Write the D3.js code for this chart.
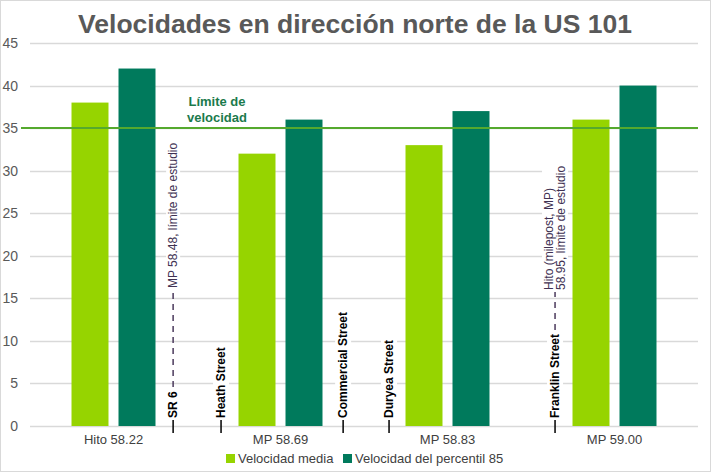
<!doctype html>
<html lang="es">
<head>
  <meta charset="utf-8">
  <script src="https://d3js.org/d3.v7.min.js"></script>
  <style>
    body { margin: 0; background: #fff; }
    text { font-family: "Liberation Sans", Arial, sans-serif; }
  </style>
</head>
<body>
<script>
  // data
  var categories = ["Hito 58.22", "MP 58.69", "MP 58.83", "MP 59.00"];
  var seriesNames = ["Velocidad media", "Velocidad del percentil 85"];
  var velocidadMedia = [38, 32, 33, 36];
  var percentil85 = [42, 36, 37, 40];
  var yTicks = [0, 5, 10, 15, 20, 25, 30, 35, 40, 45];
  var speedLimit = 35;
  // cross streets, position in category units (0 = left edge of the first group)
  var streetNames = ["SR 6", "Heath Street", "Commercial Street", "Duryea Street", "Franklin Street"];
  var streetPos = [0.857, 1.144, 1.875, 2.15, 3.144];
  // study limit notes: which street they sit above, and their lines
  var noteStreet = [0, 4];
  var noteLines = [["MP 58.48, límite de estudio"], ["Hito (milepost, MP)", "58.95, límite de estudio"]];

  var width = 711, height = 472;
  var plotLeft = 30, plotRight = 698, plotTop = 43, plotBottom = 426;
  var colors = ["#96d400", "#007a5c"];

  var svg = d3.select("body").append("svg")
      .attr("width", width)
      .attr("height", height);

  svg.append("rect")
      .attr("x", 0.5).attr("y", 0.5)
      .attr("width", width - 1).attr("height", height - 1)
      .attr("fill", "#fff")
      .attr("stroke", "#d9d9d9");

  var x = d3.scaleBand().domain(categories).range([plotLeft, plotRight]);
  var xPos = d3.scaleLinear().domain([0, categories.length]).range([plotLeft, plotRight]);
  var y = d3.scaleLinear().domain([0, 45]).range([plotBottom, plotTop]);
  var inner = d3.scaleBand().domain(seriesNames).range([0, x.bandwidth()]).paddingInner(0.213).paddingOuter(0.883);

  // title
  svg.append("text")
      .attr("x", 355).attr("y", 33)
      .attr("text-anchor", "middle")
      .style("font-size", "26.5px").style("font-weight", "bold")
      .attr("fill", "#595959")
      .text("Velocidades en dirección norte de la US 101");

  // gridlines
  svg.append("g").selectAll("line")
      .data(yTicks)
    .enter().append("line")
      .attr("x1", plotLeft).attr("x2", plotRight)
      .attr("y1", function(d) { return Math.round(y(d)) + 0.5; })
      .attr("y2", function(d) { return Math.round(y(d)) + 0.5; })
      .attr("stroke", "#d9d9d9")
      .attr("stroke-width", 1.3);

  // y labels
  var yAxis = svg.append("g")
      .attr("transform", "translate(" + (plotLeft - 4) + ",0)")
      .call(d3.axisLeft(y).tickValues(yTicks).tickSize(0).tickPadding(8));
  yAxis.select(".domain").remove();
  yAxis.selectAll("text")
      .style("font-size", "14px")
      .style("font-family", "'Liberation Sans', Arial, sans-serif")
      .attr("fill", "#595959");

  // bars
  var rows = categories.map(function(c, i) { return [velocidadMedia[i], percentil85[i]]; });
  var groups = svg.append("g").selectAll("g")
      .data(rows)
    .enter().append("g")
      .attr("transform", function(d, i) { return "translate(" + x(categories[i]) + ",0)"; });
  groups.selectAll("rect")
      .data(function(d) { return d; })
    .enter().append("rect")
      .attr("x", function(d, j) { return inner(seriesNames[j]); })
      .attr("width", inner.bandwidth())
      .attr("y", function(d) { return y(d); })
      .attr("height", function(d) { return y(0) - y(d); })
      .attr("fill", function(d, j) { return colors[j]; });

  // x labels
  var xAxis = svg.append("g")
      .attr("transform", "translate(0," + plotBottom + ")")
      .call(d3.axisBottom(x).tickSize(0).tickPadding(9));
  xAxis.select(".domain").remove();
  xAxis.selectAll("text")
      .style("font-size", "13px")
      .style("font-family", "'Liberation Sans', Arial, sans-serif")
      .attr("fill", "#404040");

  // cross streets
  var streets = svg.append("g").selectAll("g")
      .data(streetNames)
    .enter().append("g")
      .attr("transform", function(d, i) { return "translate(" + xPos(streetPos[i]) + ",0)"; });
  streets.append("rect").attr("class", "bg").attr("fill", "#fff");
  streets.append("text")
      .attr("transform", "translate(0,418) rotate(-90)")
      .attr("dy", "0.35em")
      .style("font-size", "12px").style("font-weight", "bold")
      .attr("fill", "#000")
      .text(function(d) { return d; });
  streets.each(function() {
    var g = d3.select(this), b = g.select("text").node().getBBox();
    // bbox is in the rotated frame: width runs up the page
    g.select("rect.bg")
      .attr("x", -8).attr("width", 16)
      .attr("y", 418 - b.width - 2).attr("height", b.width + 4);
  });
  streets.append("line")
      .attr("x1", 0).attr("x2", 0)
      .attr("y1", 420).attr("y2", 433)
      .attr("stroke", "#000").attr("stroke-width", 1.5);

  // study limit notes with dashed leaders
  var noteBase = [288, 290];
  noteStreet.forEach(function(s, k) {
    var g = d3.select(streets.nodes()[s]);
    var textTop = 418 - g.select("text").node().getBBox().width;
    var lines = noteLines[k];
    var n = lines.length;
    g.append("rect")
      .attr("x", -7 - (n - 1) * 6).attr("width", 14 + (n - 1) * 12)
      .attr("y", noteBase[k] - 152).attr("height", 154)
      .attr("fill", "#fff");
    g.append("line")
      .attr("x1", 0).attr("x2", 0)
      .attr("y1", textTop - 4).attr("y2", noteBase[k] + 2)
      .attr("stroke", "#4b3a5c").attr("stroke-width", 1.5)
      .attr("stroke-dasharray", "6,5");
    lines.forEach(function(t, j) {
      g.append("text")
        .attr("transform", "translate(" + ((j - (n - 1) / 2) * 12) + "," + noteBase[k] + ") rotate(-90)")
        .attr("dy", "0.35em")
        .style("font-size", "12px")
        .attr("fill", "#403152")
        .text(t);
    });
  });

  // speed limit line and label
  svg.append("line")
      .attr("x1", 21).attr("x2", plotRight)
      .attr("y1", y(speedLimit)).attr("y2", y(speedLimit))
      .attr("stroke", "#55a92e").attr("stroke-width", 2);
  svg.append("text")
      .attr("x", 217).attr("y", 106)
      .attr("text-anchor", "middle")
      .style("font-size", "13px").style("font-weight", "bold")
      .attr("fill", "#1b7a4c")
      .selectAll("tspan")
      .data(["Límite de", "velocidad"])
    .enter().append("tspan")
      .attr("x", 217)
      .attr("dy", function(d, i) { return i ? 16 : 0; })
      .text(function(d) { return d; });

  // legend
  var legend = svg.append("g").selectAll("g")
      .data(seriesNames)
    .enter().append("g")
      .attr("transform", function(d, i) { return "translate(" + [226, 343][i] + ",454)"; });
  legend.append("rect")
      .attr("width", 9).attr("height", 9)
      .attr("fill", function(d, i) { return colors[i]; });
  legend.append("text")
      .attr("x", 12).attr("y", 9)
      .style("font-size", "13px")
      .attr("fill", "#404040")
      .text(function(d) { return d; });
</script>
</body>
</html>
